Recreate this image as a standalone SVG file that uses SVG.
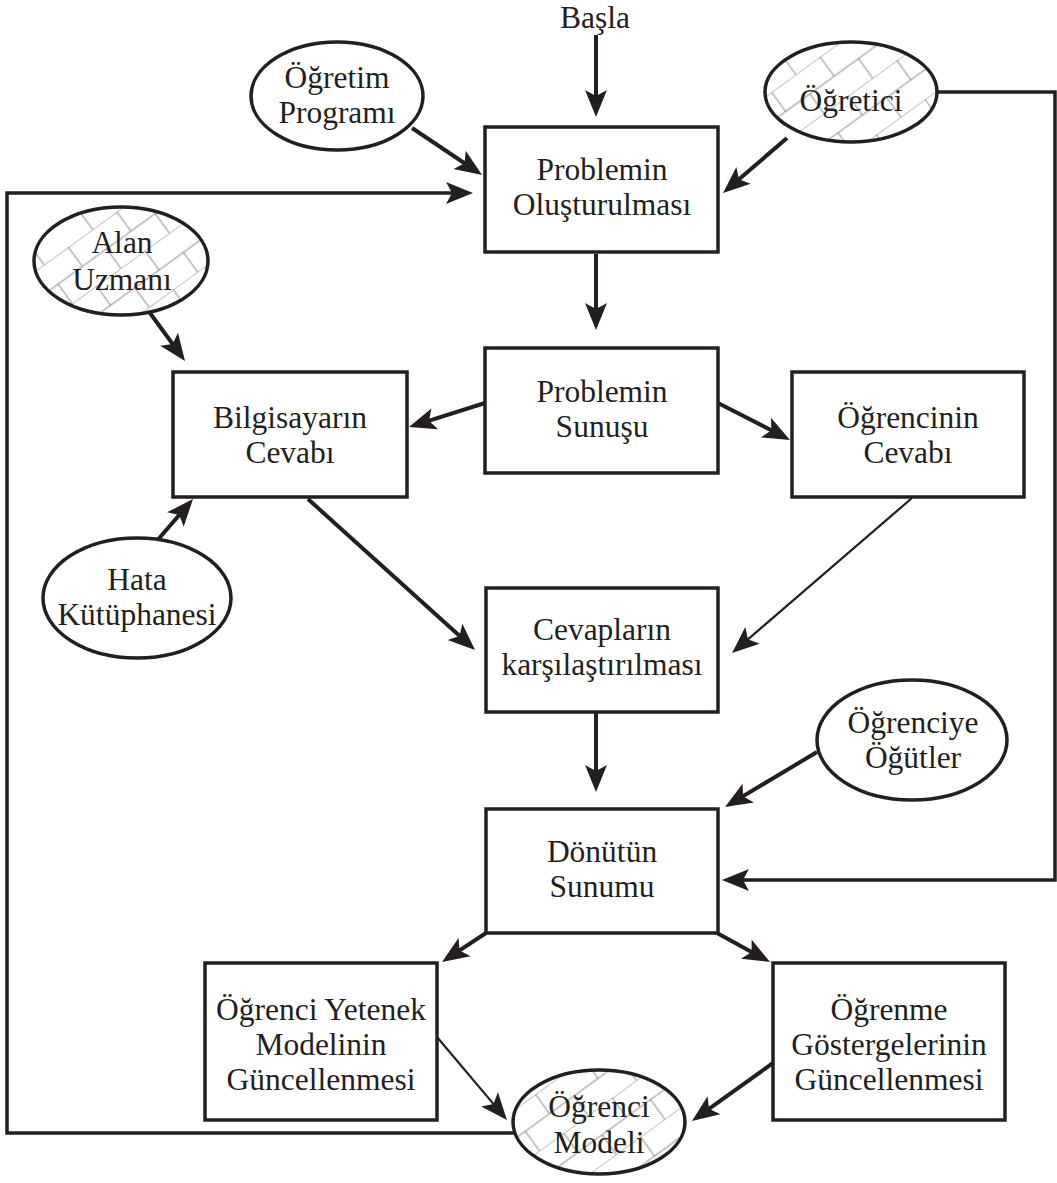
<svg xmlns="http://www.w3.org/2000/svg" width="1057" height="1183" viewBox="0 0 1057 1183">
  <defs>
    <style>
      .box { fill: #ffffff; stroke: #231f20; stroke-width: 3.5; }
      .ell { fill: #ffffff; stroke: #231f20; stroke-width: 3.5; }
      .hatch { fill: url(#brick); stroke: #231f20; stroke-width: 3.5; }
      .lbl { font-family: "Liberation Serif", "Times New Roman", serif; font-size: 31.5px; fill: #231f20; text-anchor: middle; }
      .thick { fill: none; stroke: #231f20; stroke-width: 4; marker-end: url(#arr); }
      .thin { fill: none; stroke: #231f20; stroke-width: 2.2; marker-end: url(#arr); }
      .loop { fill: none; stroke: #231f20; stroke-width: 3.5; }
    </style>
    <marker id="arr" markerUnits="userSpaceOnUse" viewBox="-22 -13 32 26" markerWidth="32" markerHeight="26" refX="0" refY="0" orient="auto">
      <path d="M 8 0 L -19 -11 L -13 0 L -19 11 Z" fill="#231f20"/>
    </marker>
    <!-- herringbone brick hatch used inside shaded ellipses -->
    <pattern id="brick" patternUnits="userSpaceOnUse" width="60" height="48" patternTransform="rotate(-36)">
      <rect width="60" height="48" fill="#ffffff"/>
      <path d="M0 0 H60 M0 24 H60 M30 0 V24 M0 24 V48 M60 24 V48" stroke="#6f6f6f" stroke-width="0.8" fill="none"/>
    </pattern>
  </defs>

  <rect width="1057" height="1183" fill="#ffffff"/>

  <!-- connectors -->
  <g id="connectors">
    <line class="thick" x1="596" y1="35" x2="596" y2="109"/>
    <line class="thick" x1="596" y1="254" x2="596" y2="322"/>
    <line class="thick" x1="412" y1="128" x2="475.4" y2="170.5"/>
    <line class="thick" x1="787" y1="138" x2="729.1" y2="187.8"/>
    <path class="loop" d="M 518 1133 H 7 V 193 H 465" marker-end="url(#arr)"/>
    <path class="loop" d="M 937 92 H 1055 V 880 H 730" marker-end="url(#arr)"/>
    <line class="thick" x1="150" y1="313" x2="180.3" y2="354.5"/>
    <line class="thick" x1="485" y1="403" x2="416.6" y2="424.6"/>
    <line class="thick" x1="718" y1="403" x2="782.9" y2="436.3"/>
    <line class="thick" x1="155" y1="543" x2="187.8" y2="505.1"/>
    <line class="thick" x1="308" y1="499" x2="469.1" y2="644.6"/>
    <line class="thin" x1="912" y1="498" x2="738.1" y2="647.8"/>
    <line class="thick" x1="596" y1="713" x2="596" y2="784"/>
    <line class="thick" x1="817" y1="752" x2="731.9" y2="802.9"/>
    <line class="thick" x1="486" y1="933" x2="448.7" y2="957.6"/>
    <line class="thick" x1="717" y1="933" x2="763" y2="958.2"/>
    <line class="thin" x1="437" y1="1037" x2="501.8" y2="1113.9"/>
    <line class="thick" x1="773" y1="1063" x2="698.5" y2="1116.3"/>
  </g>

  <g id="start">
    <text class="lbl" x="595" y="28">Başla</text>
  </g>

  <g id="ogretim-programi">
    <ellipse class="ell" cx="337" cy="96" rx="86" ry="54"/>
    <text class="lbl" x="337" y="88">Öğretim</text>
    <text class="lbl" x="337" y="123">Programı</text>
  </g>

  <g id="ogretici">
    <ellipse class="hatch" cx="851" cy="92" rx="86" ry="50"/>
    <text class="lbl" x="851" y="111">Öğretici</text>
  </g>

  <g id="problem-olusturma">
    <rect class="box" x="485" y="127" width="233" height="125"/>
    <text class="lbl" x="602" y="180">Problemin</text>
    <text class="lbl" x="602" y="215">Oluşturulması</text>
  </g>

  <g id="alan-uzmani">
    <ellipse class="hatch" cx="121" cy="261" rx="87" ry="54"/>
    <text class="lbl" x="122" y="253">Alan</text>
    <text class="lbl" x="122" y="290">Uzmanı</text>
  </g>

  <g id="problem-sunusu">
    <rect class="box" x="485" y="348" width="233" height="125"/>
    <text class="lbl" x="602" y="402">Problemin</text>
    <text class="lbl" x="602" y="437">Sunuşu</text>
  </g>

  <g id="bilgisayar-cevabi">
    <rect class="box" x="173" y="372" width="234" height="125"/>
    <text class="lbl" x="290" y="428">Bilgisayarın</text>
    <text class="lbl" x="290" y="463">Cevabı</text>
  </g>

  <g id="ogrenci-cevabi">
    <rect class="box" x="792" y="372" width="232" height="125"/>
    <text class="lbl" x="908" y="428">Öğrencinin</text>
    <text class="lbl" x="908" y="463">Cevabı</text>
  </g>

  <g id="hata-kutuphanesi">
    <ellipse class="ell" cx="137" cy="598" rx="94" ry="60"/>
    <text class="lbl" x="137" y="590">Hata</text>
    <text class="lbl" x="137" y="625">Kütüphanesi</text>
  </g>

  <g id="karsilastirma">
    <rect class="box" x="486" y="588" width="232" height="124"/>
    <text class="lbl" x="602" y="640">Cevapların</text>
    <text class="lbl" x="602" y="675">karşılaştırılması</text>
  </g>

  <g id="ogrenciye-ogutler">
    <ellipse class="ell" cx="912" cy="740" rx="95" ry="60"/>
    <text class="lbl" x="913" y="733">Öğrenciye</text>
    <text class="lbl" x="913" y="768">Öğütler</text>
  </g>

  <g id="donut-sunumu">
    <rect class="box" x="486" y="809" width="232" height="124"/>
    <text class="lbl" x="602" y="862">Dönütün</text>
    <text class="lbl" x="602" y="897">Sunumu</text>
  </g>

  <g id="yetenek-modeli">
    <rect class="box" x="205" y="963" width="232" height="157"/>
    <text class="lbl" x="321" y="1020">Öğrenci Yetenek</text>
    <text class="lbl" x="321" y="1055">Modelinin</text>
    <text class="lbl" x="321" y="1090">Güncellenmesi</text>
  </g>

  <g id="ogrenme-gostergeleri">
    <rect class="box" x="773" y="963" width="232" height="157"/>
    <text class="lbl" x="889" y="1020">Öğrenme</text>
    <text class="lbl" x="889" y="1055">Göstergelerinin</text>
    <text class="lbl" x="889" y="1090">Güncellenmesi</text>
  </g>

  <g id="ogrenci-modeli">
    <ellipse class="hatch" cx="599" cy="1122" rx="86" ry="52"/>
    <text class="lbl" x="599" y="1117">Öğrenci</text>
    <text class="lbl" x="599" y="1153">Modeli</text>
  </g>
</svg>
